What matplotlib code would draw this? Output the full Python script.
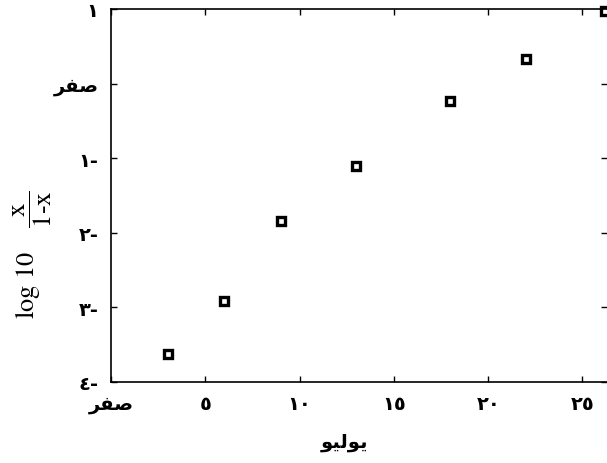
import matplotlib
matplotlib.use("Agg")
import matplotlib.pyplot as plt

# Data (x: day of July, y: log10 x/(1-x))
days = [3, 6, 9, 13, 18, 22, 26.2]
logit = [-3.63, -2.92, -1.84, -1.11, -0.23, 0.33, 0.97]

# Tick values and labels (Arabic presentation forms, visual order)
ZERO = "\uFEAE\uFED4\uFEBB"  # صفر
x_ticks = [0, 5, 10, 15, 20, 25]
x_labels = [ZERO, "\u0665", "\u0661\u0660", "\u0661\u0665", "\u0662\u0660", "\u0662\u0665"]
y_ticks = [1, 0, -1, -2, -3, -4]
y_labels = ["\u0661", ZERO, "\u0661-", "\u0662-", "\u0663-", "\u0664-"]
x_title = "\uFEEE\uFEF4\uFEDF\uFEEE\uFEF3"  # يوليو

plt.rcParams['mathtext.fontset'] = 'stix'

fig = plt.figure(figsize=(6.07, 4.64), dpi=100)
ax = fig.add_axes([111/607, 81/464, 1 - 111/607, (383-10)/464])

ax.plot(days, logit, linestyle='none', marker='s', markersize=6,
        markerfacecolor='white', markeredgecolor='black', markeredgewidth=2.4,
        clip_on=False)

ax.set_xlim(0, 26.3)
ax.set_ylim(-3.96, 1.0)
ax.set_xticks(x_ticks)
ax.set_xticklabels(x_labels, fontsize=14, fontweight='bold', family='DejaVu Sans')
ax.set_yticks(y_ticks)
ax.set_yticklabels(y_labels, fontsize=14, fontweight='bold', family='DejaVu Sans')
ax.tick_params(direction='in', top=True, right=True, length=4, width=1, pad=9)

for s in ['left', 'bottom', 'top']:
    ax.spines[s].set_linewidth(1.2)
ax.spines['right'].set_visible(False)

ax.set_xlabel(x_title, fontsize=14, fontweight='bold', family='DejaVu Sans')
ax.xaxis.set_label_coords(0.47, -0.135)
ax.set_ylabel(r'$\mathrm{log\ 10}\ \ \ \ \dfrac{\mathrm{x}}{\mathrm{1\text{-}x}}$', fontsize=19)
ax.yaxis.set_label_coords(-0.115, 0.345)

fig.savefig('out.png', dpi=100)
